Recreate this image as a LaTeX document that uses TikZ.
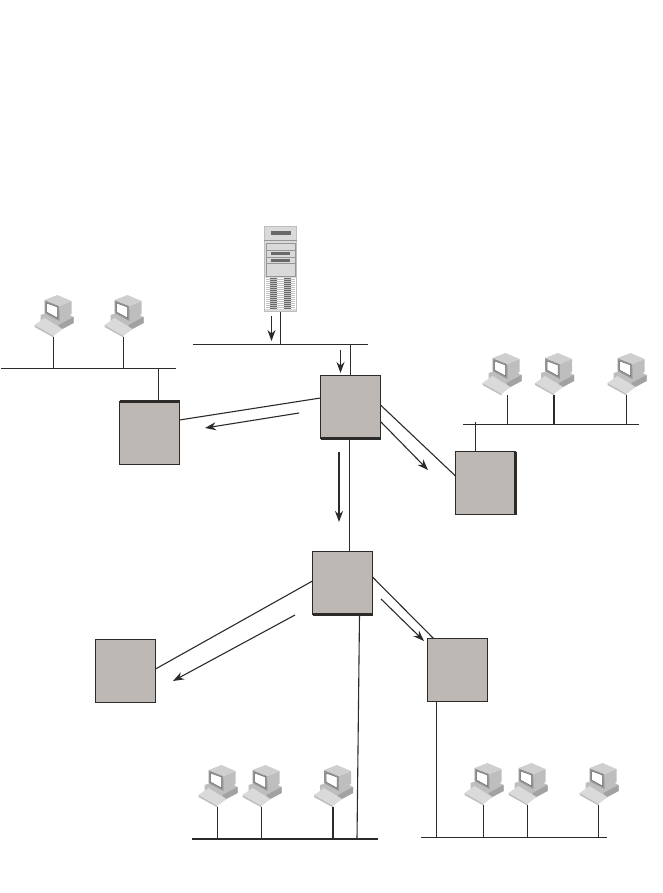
\documentclass[tikz,border=0pt]{standalone}
\usetikzlibrary{arrows.meta,calc}

\begin{document}
\begin{tikzpicture}[x=1pt, y=-1pt, line width=1.1pt]
  % Colores
  \definecolor{boxfill}{RGB}{190, 184, 180}
  \definecolor{linecolor}{RGB}{45, 42, 42}
  \definecolor{pclight}{RGB}{218, 218, 218}
  \definecolor{pcmid}{RGB}{190, 190, 190}
  \definecolor{pcdark}{RGB}{150, 150, 150}
  \definecolor{pcdeep}{RGB}{105, 105, 105}

  \tikzset{
    routerbox/.style={draw=linecolor, fill=boxfill, minimum width=60pt, minimum height=63pt, inner sep=0pt, outer sep=0pt},
    serverbox/.style={draw=pcmid, fill=pclight, line width=1.6pt, minimum width=32pt, minimum height=85pt, inner sep=0pt, outer sep=0pt},
    wire/.style={draw=linecolor},
    heavy/.style={draw=linecolor, line width=2.2pt},
    flow/.style={draw=linecolor, line width=1.1pt, -{Stealth[length=11pt, width=8pt]}},
    bigflow/.style={draw=linecolor, line width=1.8pt, -{Stealth[length=11pt, width=8pt]}},
    computer/.pic={
      % Base
      \fill[pcmid] (-13,-22) -- (5,-28) -- (20,-20) -- (20,-14) -- (5,-6) -- (-13,-15) -- cycle;
      \fill[pcdark!70!pcmid] (5,-12) -- (20,-20) -- (20,-14) -- (5,-6) -- cycle;
      % Teclado
      \fill[pclight] (-19,-12) -- (-9,-19) -- (9,-8) -- (0,-1) -- cycle;
      \fill[pcmid] (-19,-12) -- (0,-1) -- (0,0.5) -- (-19,-10) -- cycle;
      % Monitor
      \fill[pcdark] (-9,-37) -- (6,-31) -- (6,-16) -- (-9,-24) -- cycle;
      \fill[pcmid] (6,-31) -- (18,-36) -- (18,-23) -- (6,-16) -- cycle;
      \fill[pclight!60!pcmid] (-9,-37) -- (4,-42) -- (18,-36) -- (6,-31) -- cycle;
      \fill[white] (-7,-34) -- (4,-30) -- (4,-19) -- (-7,-25) -- cycle;
      \draw[pcdeep, line width=0.5pt] (-7,-34) -- (4,-30) -- (4,-19) -- (-7,-25) -- cycle;
    }
  }

  \useasboundingbox (0,0) rectangle (662,893);

  % Coordenadas de los equipos
  \coordinate (pcA) at (53.5,337);
  \coordinate (pcB) at (123.5,337);
  \coordinate (pcC) at (507.5,395);
  \coordinate (pcD) at (554,395);
  \coordinate (pcE) at (626.5,395);
  \coordinate (pcF) at (217.5,807);
  \coordinate (pcG) at (261.5,807);
  \coordinate (pcH) at (333,807);
  \coordinate (pcI) at (483.5,805);
  \coordinate (pcJ) at (527.5,805);
  \coordinate (pcK) at (598.5,805);

  % Extremos de los buses
  \coordinate (serverL) at (193,344.5);
  \coordinate (serverR) at (368,344.5);
  \coordinate (leftL) at (1,368.5);
  \coordinate (leftR) at (176,368.5);
  \coordinate (rightL) at (463,424.5);
  \coordinate (rightR) at (639,424.5);
  \coordinate (lowL) at (192,839);
  \coordinate (lowR) at (378,839);
  \coordinate (lowerL) at (421,837.5);
  \coordinate (lowerR) at (607,837.5);

  % Servidor
  \node[serverbox] (server) at (280.5,269) {};
  \draw[pcdark, line width=1pt] (264,240) -- (297,240);
  \fill[pcdeep] (271,231) rectangle (291,235);
  \draw[pcdark, line width=1pt] (266,243) rectangle (295,276);
  \draw[pcdark, line width=0.8pt] (266,250) -- (295,250);
  \draw[pcdark, line width=0.8pt] (266,257) -- (295,257);
  \draw[pcdark, line width=0.8pt] (266,263) -- (295,263);
  \fill[pcdeep] (271,252) rectangle (290,255);
  \fill[pcdeep] (271,259) rectangle (290,262);
  \fill[white] (265,278) rectangle (296,309);
  \fill[pcdeep] (270,278) rectangle (277,309);
  \fill[pcdeep] (284,278) rectangle (291,309);
  \foreach \y in {279,281,...,308} {
    \draw[pcdark!60!white, line width=0.7pt] (266,\y) -- (295,\y);
  }

  % Equipos
  \foreach \p in {pcA,pcB,pcD,pcE,pcF,pcG,pcH,pcI,pcJ,pcK} {
    \pic at (\p) {computer};
  }
  \pic at ($(pcC)+(-6,0)$) {computer};

  % Cajas
  \node[routerbox] (boxtop) at (350.5,407) {};
  \node[routerbox] (boxleft) at (149.5,433) {};
  \node[routerbox] (boxright) at (485.5,483) {};
  \node[routerbox] (boxmid) at (342.5,583) {};
  \node[routerbox] (boxlowleft) at (125.5,671) {};
  \node[routerbox] (boxlowright) at (457.5,670) {};

  % Lados gruesos
  \draw[heavy] (boxtop.south west) -- (boxtop.south east);
  \draw[heavy] (boxleft.north west) -- (boxleft.north east);
  \draw[heavy] (boxright.north east) -- (boxright.south east);
  \draw[heavy] (boxmid.south west) -- (boxmid.south east);

  % Buses
  \draw[wire] (serverL) -- (serverR);
  \draw[wire] (leftL) -- (leftR);
  \draw[wire] (rightL) -- (rightR);
  \draw[heavy] (lowL) -- (lowR);
  \draw[wire] (lowerL) -- (lowerR);

  % Bajadas de los equipos
  \foreach \p/\b in {pcA/leftL,pcB/leftL,pcC/rightL,pcE/rightL,pcF/lowL,pcG/lowL,pcI/lowerL,pcJ/lowerL,pcK/lowerL} {
    \draw[wire] (\p) -- (\p |- \b);
  }
  \draw[wire, line width=1.8pt] (pcD) -- (pcD |- rightL);
  \draw[wire, line width=1.8pt] (pcH) -- (pcH |- lowL);

  % Enlaces
  \coordinate (tapleft) at (158.5,368);
  \coordinate (tapright) at (475.5,422);
  \coordinate (tapserver) at (351,344);
  \coordinate (trunktop) at (349.5,439);
  \coordinate (trunklow) at (359.5,614.5);
  \coordinate (trunkend) at (357,839);
  \coordinate (droplow) at (436.5,702);
  \coordinate (dropend) at (436.5,837);
  \draw[wire] (server.south) -- (server.south |- serverL);
  \draw[wire] (boxtop.north) -- (boxtop.north |- tapserver);
  \draw[wire] (tapleft) -- (tapleft |- boxleft.north);
  \draw[wire] (tapright) -- (tapright |- boxright.north);
  \draw[wire] ($(boxtop.west)+(0,-9)$) -- ($(boxleft.east)+(0,-13)$);
  \draw[wire] ($(boxtop.east)+(0,-2)$) -- ($(boxright.west)+(0,-7)$);
  \draw[wire] (trunktop) -- (trunktop |- boxmid.north);
  \draw[wire] ($(boxmid.west)+(0,-2)$) -- ($(boxlowleft.east)+(0,-2)$);
  \draw[wire] ($(boxmid.east)+(0,-6)$) -- (433.5,638.5);
  \draw[wire] (trunklow) -- (trunkend);
  \draw[wire] (droplow) -- (dropend);

  % Flechas
  \coordinate (arrowA) at (271.5,316);
  \coordinate (arrowAend) at (271.5,341);
  \draw[flow] (arrowA) -- (arrowAend);
  \coordinate (arrowB) at (340.5,350);
  \coordinate (arrowBend) at (340.5,373);
  \draw[flow] (arrowB) -- (arrowBend);
  \coordinate (arrowC) at (299,413);
  \coordinate (arrowCend) at (205,428);
  \draw[flow] (arrowC) -- (arrowCend);
  \coordinate (arrowD) at (381,422);
  \coordinate (arrowDend) at (428,470);
  \draw[flow] (arrowD) -- (arrowDend);
  \coordinate (arrowE) at (339,452);
  \coordinate (arrowEend) at (339,522);
  \draw[bigflow] (arrowE) -- (arrowEend);
  \coordinate (arrowF) at (295,615);
  \coordinate (arrowFend) at (173,681);
  \draw[flow] (arrowF) -- (arrowFend);
  \coordinate (arrowG) at (381,599);
  \coordinate (arrowGend) at (424,641);
  \draw[flow] (arrowG) -- (arrowGend);

\end{tikzpicture}
\end{document}
